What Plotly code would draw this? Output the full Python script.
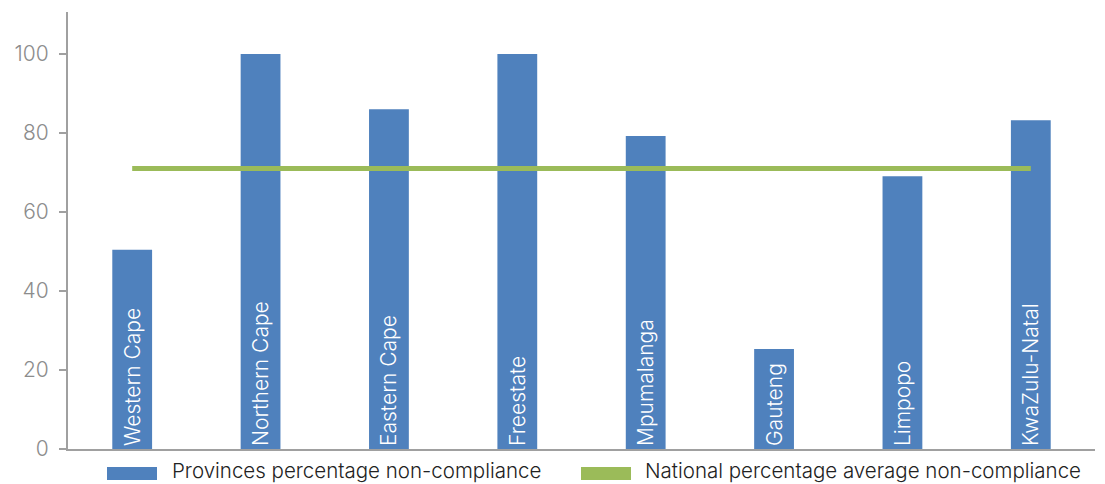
import plotly.graph_objects as go

provinces = ["Western Cape", "Northern Cape", "Eastern Cape", "Freestate",
             "Mpumalanga", "Gauteng", "Limpopo", "KwaZulu-Natal"]
non_compliance = [50.4, 100, 86, 100, 79.2, 25.3, 69, 83.2]
national_average = [71, 71, 71, 71, 71, 71, 71, 71]
y_ticks = [0, 20, 40, 60, 80, 100]
legend_labels = ["Provinces percentage non-compliance",
                 "National percentage average non-compliance"]

FONT = "Inter"
BLUE = "#4f81bd"
GREEN = "#9bbb59"

# plot area geometry (pixels)
W, H = 1105, 484
L, R, T, B = 68, 10, 12, 35
PW, PH = W - L - R, H - T - B


def px_x(p):
    return (p - L) / PW


def px_y(p):
    return (H - B - p) / PH


fig = go.Figure()
fig.add_trace(go.Bar(
    x=provinces, y=non_compliance,
    name=legend_labels[0],
    marker=dict(color=BLUE, line=dict(width=0)),
    width=0.31,
    text=[p + "\u00a0" for p in provinces], textposition="inside", insidetextanchor="start",
    textangle=-90, constraintext="none",
    textfont=dict(family=FONT, size=21, color="white", weight=300),
    hoverinfo="skip",
))
fig.add_trace(go.Scatter(
    x=provinces, y=national_average, mode="lines",
    name=legend_labels[1],
    line=dict(color=GREEN, width=5),
))

# legend drawn manually (wide rectangle swatches like the original)
shapes = []
annotations = []
for (x0, x1, tx), color, label in zip([(107, 157, 171), (581, 631, 644)],
                                      [BLUE, GREEN], legend_labels):
    shapes.append(dict(type="rect", xref="paper", yref="paper",
                       x0=px_x(x0), x1=px_x(x1), y0=px_y(480), y1=px_y(467),
                       fillcolor=color, line=dict(width=0)))
    annotations.append(dict(xref="paper", yref="paper", x=px_x(tx), y=px_y(483.5),
                            xanchor="left", yanchor="bottom", showarrow=False,
                            text=label, borderpad=0,
                            font=dict(family=FONT, size=20.5, color="#222222", weight=300)))

fig.update_layout(
    width=W, height=H,
    margin=dict(l=L, r=R, t=T, b=B),
    plot_bgcolor="white", paper_bgcolor="white",
    font=dict(family=FONT, size=19, color="#222222"),
    showlegend=False,
    shapes=shapes, annotations=annotations,
    bargap=0.69,
)
fig.update_xaxes(showticklabels=False, showline=True, linecolor="#a0a0a0", linewidth=2,
                 ticks="", showgrid=False, zeroline=False)
fig.update_yaxes(range=[0, 110.6], tickvals=y_ticks, showline=True, linecolor="#a0a0a0",
                 linewidth=2, ticks="outside", ticklen=7, tickwidth=2, tickcolor="#a0a0a0",
                 ticklabelstandoff=6,
                 showgrid=False, zeroline=False,
                 tickfont=dict(family=FONT, size=21, color="#8c8c8c", weight=300))

fig.write_html("out.html")
